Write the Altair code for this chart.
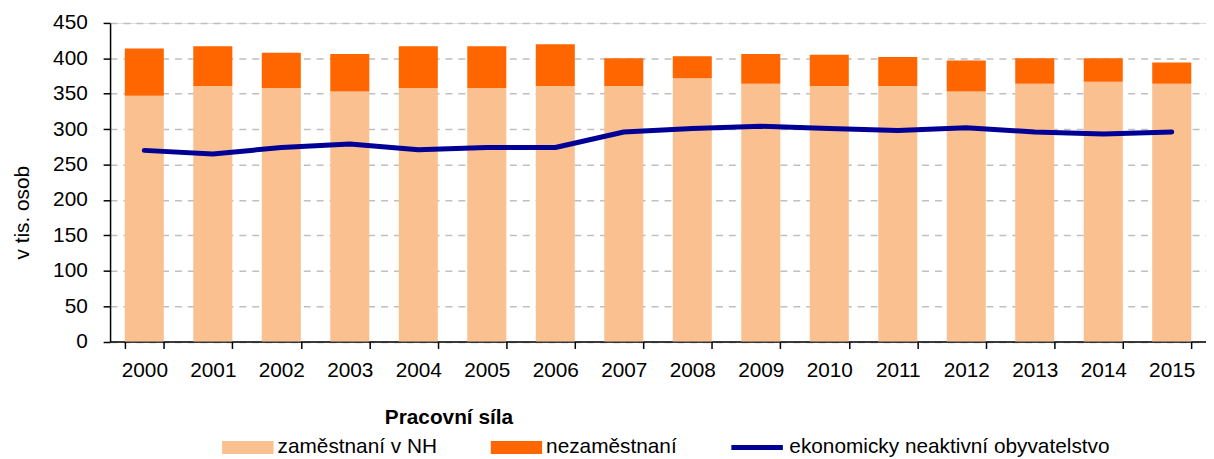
import altair as alt
import pandas as pd

years = [str(y) for y in range(2000, 2016)]
employed = [347, 361, 358, 353, 358, 358, 361, 361, 372, 364, 361, 361, 353, 364, 367, 364]
unemployed = [67, 56, 50, 53, 59, 59, 59, 39, 31, 42, 44, 41, 44, 36, 33, 30]
inactive = [270, 265, 274, 279, 271, 274, 274, 296, 301, 304, 301, 298, 302, 296, 293, 296]

bar_series = ["zaměstnaní v NH", "nezaměstnaní"]
line_series = "ekonomicky neaktivní obyvatelstvo"
bar_colors = ["#FAC090", "#FF6600"]
line_color = "#000096"
legend_title = "Pracovní síla"
y_title = "v tis. osob"

rows = []
for i, y in enumerate(years):
    rows.append({"year": y, "series": bar_series[0], "idx": 0, "value": employed[i]})
    rows.append({"year": y, "series": bar_series[1], "idx": 1, "value": unemployed[i]})
bars_df = pd.DataFrame(rows)
line_df = pd.DataFrame({"year": years, "value": inactive, "series": [line_series] * len(years)})

FONT = "Liberation Sans"

x_enc = alt.X(
    "year:N",
    title=None,
    scale=alt.Scale(paddingInner=0.43, paddingOuter=0.215),
    axis=alt.Axis(
        labelAngle=0, labelFontSize=21, labelFont=FONT, labelColor="black",
        tickBand="extent", tickSize=7, tickColor="black", tickWidth=1.5,
        domainColor="black", domainWidth=1.5, labelPadding=11, grid=False,
    ),
)

y_axis = alt.Axis(
    values=list(range(0, 451, 50)),
    title=y_title, titleFont=FONT, titleFontSize=21, titleFontWeight="normal",
    titleColor="black", titleAngle=270, titleBaseline="alphabetic", titleAlign="center",
    titleX=-82, titleY=191,
    labelFontSize=21, labelFont=FONT, labelColor="black", labelPadding=16,
    tickSize=7, tickColor="black", tickWidth=1.5,
    domainColor="black", domainWidth=1.5,
    grid=True, gridColor="#BFBFBF", gridDash=[7, 6], gridWidth=1.5,
)
y_scale = alt.Scale(domain=[0, 450], nice=False)

bars = alt.Chart(bars_df).mark_bar().encode(
    x=x_enc,
    y=alt.Y("value:Q", stack="zero", scale=y_scale, axis=y_axis),
    fill=alt.Fill(
        "series:N",
        scale=alt.Scale(domain=bar_series, range=bar_colors),
        legend=alt.Legend(
            orient="none", legendX=113, legendY=388, direction="horizontal",
            title=legend_title, titleFont=FONT, titleFontSize=21, titleFontWeight="bold",
            titleColor="black", titleAnchor="middle", titlePadding=9, titleLimit=600,
            labelFont=FONT, labelFontSize=21, labelColor="black", labelOffset=4,
            labelLimit=600,
            symbolType="M-1,-0.25H1V0.25H-1Z", symbolSize=2704, symbolStrokeWidth=0,
            symbolOpacity=1, clipHeight=21, columnPadding=53, padding=0,
        ),
    ),
    order=alt.Order("idx:Q", sort="ascending"),
)

line = alt.Chart(line_df).mark_line(
    strokeWidth=5, strokeCap="round", strokeJoin="round"
).encode(
    x=x_enc,
    y=alt.Y("value:Q", scale=y_scale, axis=y_axis),
    stroke=alt.Stroke(
        "series:N",
        scale=alt.Scale(domain=[line_series], range=[line_color]),
        legend=alt.Legend(
            orient="none", legendX=624.5, legendY=418, direction="horizontal",
            title=None,
            labelFont=FONT, labelFontSize=21, labelColor="black", labelOffset=4,
            labelLimit=600,
            symbolType="stroke", symbolSize=2704, symbolStrokeWidth=5,
            clipHeight=21, padding=0,
        ),
    ),
)

chart = alt.layer(bars, line).properties(
    width=1106, height=321.5,
    padding={"left": 4, "top": 2, "right": 0, "bottom": 0},
).configure_view(stroke=None).configure(font=FONT)

chart.save("out.html", embed_options={"renderer": "svg", "actions": False})
